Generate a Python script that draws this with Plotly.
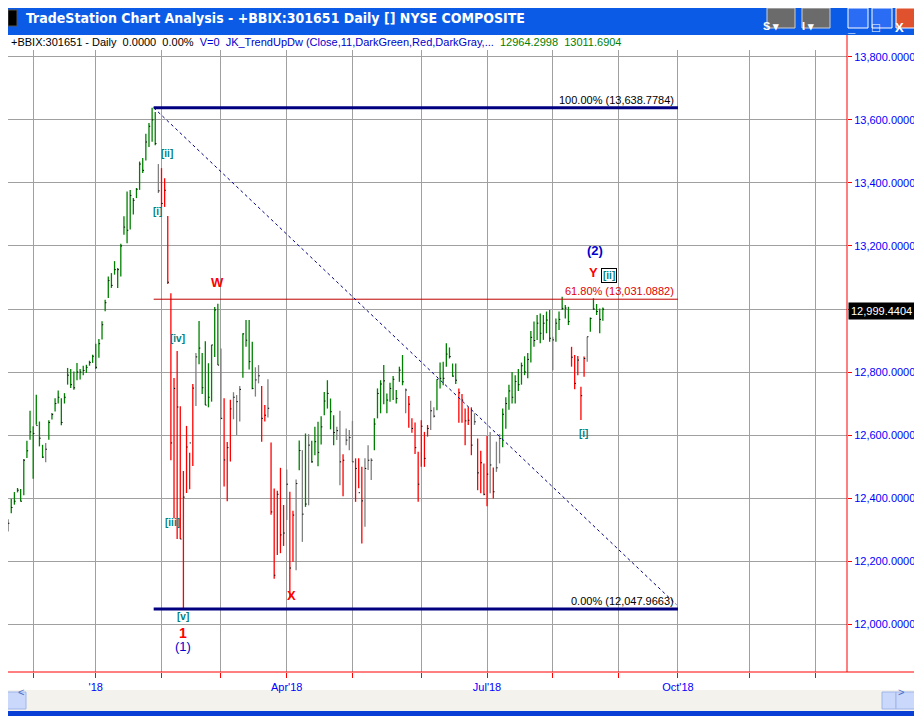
import plotly.graph_objects as go

# ---------------- data (daily bars, index 0 = 2017-11-20) ----------------
high = [12333,12398,12419,12432,12429,12524,12582,12677,12628,12728,12643,12569,12575,12647,12670,12717,12741,12717,12733,12813,
        12810,12802,12829,12810,12820,12823,12836,12855,12890,12905,
        12961,13029,13103,13114,13152,13130,13207,13294,13373,13378,13352,13384,13468,13479,13556,13590,13639,
        13625,13460,13447,13415,13295,
        13050,12781,12867,12691,12486,12629,12544,12762,12860,12962,12860,12898,12828,12886,13006,13017,12875,12717,12578,12712,
        12736,12727,12756,12923,12965,12965,12896,12815,12822,12756,12695,12777,12576,12430,12423,12496,12378,12491,12420,12360,12459,12583,
        12552,12605,12603,12582,12626,12642,12660,12737,12774,12716,12663,12626,12677,12539,12621,12616,12645,12526,12526,12499,
        12526,12568,12526,12653,12748,12774,12822,12732,12766,12787,12743,12817,12854,12748,12724,12653,12640,12547,12647,12610,
        12632,12709,12688,12777,12830,12833,12891,12878,12827,12827,12748,12730,12684,12688,12688,12669,12589,12550,12510,12597,
        12610,12497,12579,12603,12684,
        12720,12760,12800,12790,12810,12830,12850,12860,12930,12960,
        12981,12986,12981,12992,12997,12912,12970,12992,13039,13013,13007,12880,12854,12851,12753,12849,12912,12973,13034,13016,13002,13005]
low = [12294,12352,12379,12418,12389,12409,12527,12585,12461,12633,12564,12527,12514,12585,12649,12675,12700,12631,12700,12760,
       12749,12744,12774,12776,12790,12797,12820,12829,12810,12845,
       12903,12993,13035,13067,13109,13067,13103,13236,13209,13252,13300,13352,13378,13432,13471,13514,13531,
       13520,13368,13324,13324,13079,
       12520,12336,12270,12270,12048,12416,12428,12502,12692,12825,12730,12695,12688,12706,12848,12822,12650,12437,12390,12516,
       12650,12600,12643,12782,12880,12808,12745,12722,12764,12579,12643,12656,12347,12144,12219,12225,12248,12330,12082,12198,12171,12488,
       12261,12372,12377,12512,12536,12501,12570,12663,12684,12618,12568,12584,12441,12406,12568,12552,12515,12388,12431,12256,
       12309,12489,12457,12552,12653,12669,12698,12669,12706,12711,12700,12769,12758,12669,12623,12607,12540,12388,12499,12499,
       12595,12616,12656,12679,12748,12758,12817,12843,12785,12762,12639,12639,12568,12632,12536,12632,12425,12415,12409,12374,
       12415,12399,12483,12510,12561,
       12620,12680,12700,12700,12740,12760,12790,12780,12830,12880,
       12902,12891,12902,12923,12896,12806,12896,12933,12997,12970,12949,12817,12745,12790,12648,12785,12833,12928,12997,12981,12923,12963]
close = [12320,12370,12390,12425,12390,12520,12550,12610,12605,12630,12590,12530,12555,12640,12665,12700,12720,12640,12720,12790,
         12760,12750,12800,12800,12805,12815,12830,12850,12815,12890,
         12950,13020,13090,13075,13125,13125,13200,13260,13250,13360,13345,13380,13460,13440,13530,13580,13600,
         13525,13375,13335,13377,13085,
         12575,12748,12689,12270,12403,12562,12575,12749,12848,12876,12750,12695,12720,12886,12997,12822,12653,12521,12560,12683,
         12720,12706,12745,12921,12901,12833,12748,12775,12788,12653,12663,12685,12356,12155,12412,12283,12289,12444,12178,12346,12446,12551,
         12349,12381,12568,12515,12579,12545,12626,12708,12732,12674,12608,12614,12515,12520,12584,12592,12515,12494,12417,12391,
         12494,12520,12520,12635,12732,12762,12772,12711,12748,12777,12716,12806,12769,12743,12698,12621,12560,12444,12628,12526,
         12621,12677,12660,12777,12780,12780,12857,12849,12787,12774,12734,12711,12645,12647,12568,12642,12480,12512,12412,12476,
         12505,12420,12496,12589,12666,
         12700,12740,12720,12770,12760,12820,12800,12840,12910,12900,
         12955,12923,12955,12965,12907,12902,12955,12967,13002,13003,12960,12847,12764,12838,12725,12843,12912,12970,13000,12992,12967,12999.44]
trend = ("kgggggggggggk" + "g" * 17 + "g" * 17 + "gkrrr" +
         "rrrrrrrrkgggggggkrrrkkkggggkkrrkrrrrrkrrkg" +
         "kgkggggggggkkrkkkrrrkkk" + "g" * 10 + "krrrrrrrkk" + "g" * 7 + "rrrrrkrrrrkrkkg" +
         "g" * 10 + "gggggkgggggrrrrrkggggg")

month_idx = [8, 28, 49, 68, 89, 110, 132, 153, 174, 195, 214, 237, 258]
month_txt = ["", "'18", "", "", "Apr'18", "", "", "Jul'18", "", "", "Oct'18", "", ""]
price_ticks = [12000, 12200, 12400, 12600, 12800, 13000, 13200, 13400, 13600, 13800]
price_text = ["12,000.0000", "12,200.0000", "12,400.0000", "12,600.0000", "12,800.0000", "",
              "13,200.0000", "13,400.0000", "13,600.0000", "13,800.0000"]

fib_hi, fib_lo, fib_618 = 13638.7784, 12047.9663, 13031.0882
last_price = 12999.4404

# ---------------- figure ----------------
OFF = 8                      # page body margin
W, H = 922 - OFF, 716 - OFF
PL, PR, PT, PB = 8, 847, 50, 672
XR = [-0.04, 268]
YR = [11848, 13822]
def fx(px): return (px - OFF) / W
def fy(py): return 1 - (py - OFF) / H

colors = {"g": "#008000", "r": "#ff0000", "k": "#808080"}
fig = go.Figure()
n = min(len(high), len(low), len(close), len(trend))
for key, col in colors.items():
    xs, ys = [], []
    for i in range(n):
        if trend[i] == key:
            xs += [i, i, None]
            ys += [low[i], high[i], None]
    fig.add_trace(go.Scatter(x=xs, y=ys, mode="lines", line=dict(color=col, width=1.3),
                             hoverinfo="skip", showlegend=False))
tx, ty = [], []
for i in range(n):
    tx += [i, i + 0.4, None]
    ty += [close[i], close[i], None]
fig.add_trace(go.Scatter(x=tx, y=ty, mode="lines", line=dict(color="black", width=1),
                         hoverinfo="skip", showlegend=False))

shapes = []
def prect(a, b, c, d, **kw):
    shapes.append(dict(type="rect", xref="paper", yref="paper", x0=fx(a), x1=fx(b), y0=fy(d), y1=fy(c), **kw))
prect(0, 922, 0, 716, fillcolor="#0a3fd6", line_width=0, layer="below")
prect(0, 922, 0, 35, fillcolor="#0b5be6", line_width=0, layer="below")
prect(0, 922, 0, 6, fillcolor="#3d86f4", line_width=0, layer="below")
prect(4, 917, 35, 690, fillcolor="white", line_width=0, layer="below")
prect(4, 917, 690, 711, fillcolor="#f3f2ec", line_width=0, layer="below")
for a, b in [(6, 26), (882, 896), (896, 916)]:
    prect(a, b, 692, 709, fillcolor="#c9d8fb", line=dict(color="#9fb6ec", width=1))
prect(8, 17, 10, 26, fillcolor="black", line=dict(color="#555", width=1))
for a, b in [(767, 795), (802, 830)]:
    prect(a, b, 8, 28, fillcolor="#6b6b6b", line=dict(color="#cfcfcf", width=1))
for a, b, c in [(848, 868, "#2a6df4"), (872, 892, "#2a6df4"), (896, 916, "#e0512e")]:
    prect(a, b, 8, 28, fillcolor=c, line=dict(color="white", width=1))
shapes.append(dict(type="line", xref="paper", yref="paper", x0=fx(4), x1=fx(917), y0=fy(PB), y1=fy(PB),
                   line=dict(color="red", width=1)))
shapes.append(dict(type="line", xref="paper", yref="paper", x0=fx(PR), x1=fx(PR), y0=fy(PB), y1=fy(35),
                   line=dict(color="red", width=1)))
x_start, x_end = 46.5, 214
shapes.append(dict(type="line", xref="x", yref="y", x0=x_start, x1=x_end, y0=fib_hi, y1=fib_hi,
                   line=dict(color="#000080", width=3)))
shapes.append(dict(type="line", xref="x", yref="y", x0=x_start, x1=x_end, y0=fib_lo, y1=fib_lo,
                   line=dict(color="#000080", width=3)))
shapes.append(dict(type="line", xref="x", yref="y", x0=x_start, x1=x_end, y0=fib_618, y1=fib_618,
                   line=dict(color="#c00000", width=1)))
shapes.append(dict(type="line", xref="x", yref="y", x0=x_start, x1=213.5, y0=fib_hi, y1=12062,
                   line=dict(color="#000080", width=1, dash="dot")))

ann = []
FONT = "Liberation Sans, Arial, sans-serif"
def pann(px, py, text, **kw):
    ann.append(dict(xref="paper", yref="paper", x=fx(px), y=fy(py), text=text, showarrow=False, **kw))
pann(24, 18, "<b>TradeStation Chart Analysis - +BBIX:301651 Daily [] NYSE COMPOSITE</b>",
     xanchor="left", yanchor="middle", font=dict(color="white", size=14, family="DejaVu Sans Condensed, DejaVu Sans"))
for xc, t in [(781, "S ▾"), (816, "I ▾")]:
    pann(xc, 18, "<b>" + t + "</b>", font=dict(color="white", size=11, family=FONT))
for xc, t in [(858, "_"), (882, "□"), (906, "X")]:
    pann(xc, 18, "<b>" + t + "</b>", font=dict(color="white", size=13, family=FONT))
pann(16, 700, "<", font=dict(color="#4a6fc7", size=11, family=FONT))
pann(906, 700, ">", font=dict(color="#4a6fc7", size=11, family=FONT))
pann(9, 42, ("<span style='color:black'>+BBIX:301651 - Daily  0.0000  0.00%</span>  "
             "<span style='color:#0000cc'>V=0  JK_TrendUpDw (Close,11,DarkGreen,Red,DarkGray,...</span>  "
             "<span style='color:#008000'>12964.2998  13011.6904</span>"),
     xanchor="left", yanchor="middle", font=dict(size=11, family=FONT))
pann(915, 311, "12,999.4404", xanchor="right", yanchor="middle", bgcolor="black", borderpad=2,
     font=dict(color="white", size=11, family=FONT))
for p, t, c in [(fib_hi, "100.00% (13,638.7784)", "black"), (fib_618, "61.80% (13,031.0882)", "#e00000"),
                (fib_lo, "0.00% (12,047.9663)", "black")]:
    ann.append(dict(xref="x", yref="y", x=213.5, y=p, xanchor="right", yanchor="bottom",
                    text=t, showarrow=False, font=dict(color=c, size=11, family=FONT)))
for xi, p, t, c, sz, bold in [(66.8, 13083, "W", "red", 13, True), (90.4, 12090, "X", "red", 13, True),
                              (187, 13117, "Y", "red", 13, True), (187.5, 13187, "(2)", "#0000cc", 13, True),
                              (56, 11972, "1", "red", 14, True), (56, 11928, "(1)", "#0000cc", 13, False)]:
    ann.append(dict(xref="x", yref="y", x=xi, y=p, text=("<b>%s</b>" % t) if bold else t, showarrow=False,
                    font=dict(color=c, size=sz, family=FONT)))
for xi, p, t, box in [(50.8, 13492, "[ii]", False), (47.6, 13311, "[i]", False), (54, 12905, "[iv]", False),
                      (52.4, 12324, "[iii]", False), (55.9, 12025, "[v]", False), (183.7, 12606, "[i]", False),
                      (192, 13105, "[ii]", True)]:
    ann.append(dict(xref="x", yref="y", x=xi, y=p, text="<b>%s</b>" % t, showarrow=False,
                    bordercolor="black" if box else "rgba(0,0,0,0)", borderwidth=1 if box else 0, borderpad=1,
                    font=dict(color="#008080", size=10, family=FONT)))

fig.update_layout(
    width=W, height=H, margin=dict(l=0, r=0, t=0, b=0),
    paper_bgcolor="white", plot_bgcolor="white",
    shapes=shapes, annotations=ann, showlegend=False,
    xaxis=dict(domain=[fx(PL), fx(PR)], range=XR, tickmode="array", tickvals=month_idx, ticktext=month_txt,
               showgrid=True, gridcolor="#a0a0a0", gridwidth=1, zeroline=False,
               ticks="outside", ticklen=5, tickcolor="red", showline=False,
               tickfont=dict(color="#0000ff", size=11, family=FONT)),
    yaxis=dict(domain=[fy(PB), fy(PT)], range=YR, side="right", tickmode="array", tickvals=price_ticks,
               ticktext=price_text, showgrid=True, gridcolor="#a0a0a0", gridwidth=1, zeroline=False,
               ticks="outside", ticklen=4, tickcolor="red", showline=False,
               tickfont=dict(color="#0000ff", size=11, family=FONT)),
)
fig.write_html("out.html")
